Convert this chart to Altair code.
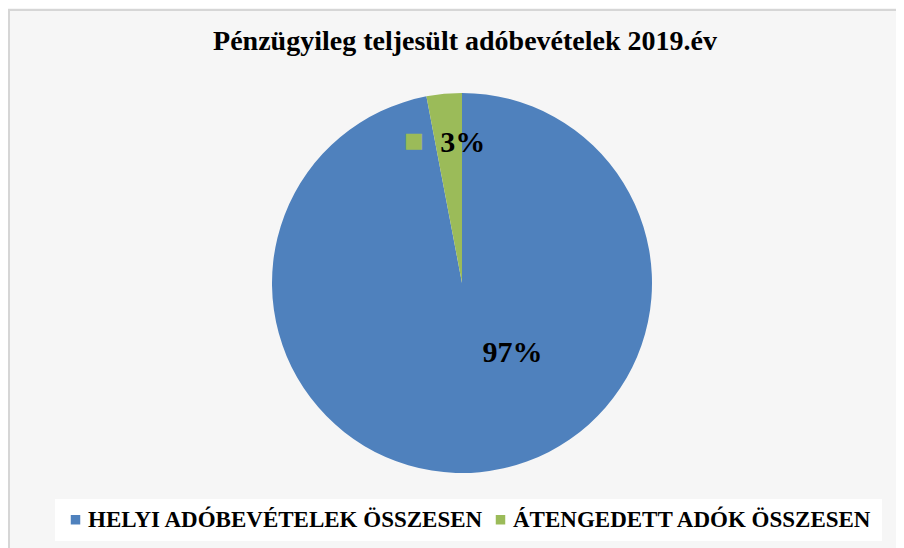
import altair as alt
import pandas as pd

categories = ["HELYI ADÓBEVÉTELEK ÖSSZESEN", "ÁTENGEDETT ADÓK ÖSSZESEN"]
shares = [97, 3]
labels = ["97%", "3%"]
colors = ["#4F81BD", "#9BBB59"]
order_idx = [0, 1]

df = pd.DataFrame({"cat": categories, "share": shares, "label": labels, "ord": order_idx})

FONT = "Liberation Serif"

frame = alt.Chart(pd.DataFrame({"a": [0]})).mark_rect(
    fill="#f6f6f6", stroke="#d6d6d6", strokeWidth=2
).encode(
    x=alt.value(-19), x2=alt.value(1000), y=alt.value(-8), y2=alt.value(600)
)

base = alt.Chart(df).encode(
    theta=alt.Theta("share:Q", stack=True),
    order=alt.Order("ord:Q"),
)

pie = base.mark_arc(outerRadius=190).encode(
    color=alt.Color(
        "cat:N",
        scale=alt.Scale(domain=categories, range=colors),
        legend=alt.Legend(
            title=None,
            orient="none",
            legendX=27,
            legendY=481,
            direction="horizontal",
            symbolType="square",
            symbolSize=90,
            symbolStrokeWidth=0,
            labelFont=FONT,
            labelFontSize=23,
            labelFontWeight="bold",
            labelColor="black",
            labelLimit=0,
            labelOffset=1,
            columnPadding=5,
            fillColor="white",
            padding=9,
        ),
    )
)

big_label = base.transform_calculate(
    t="datum.ord == 0 ? datum.label : ''"
).mark_text(
    radius=70, dx=44, font=FONT, fontSize=30, fontWeight="bold", color="black"
).encode(text="t:N", detail="cat:N")

small_label = base.transform_calculate(
    t="datum.ord == 1 ? datum.label : ''"
).mark_text(
    radius=140, dx=14, dy=-1, font=FONT, fontSize=30, fontWeight="bold", color="black"
).encode(text="t:N", detail="cat:N")

small_key = base.transform_calculate(
    t="datum.ord == 1 ? '■' : ''"
).mark_text(
    radius=140, dx=-35, dy=-3, font="DejaVu Sans", fontSize=21, color="#9BBB59"
).encode(text="t:N", detail="cat:N")

chart = alt.layer(frame, pie, big_label, small_label, small_key).properties(
    width=868,
    height=530,
    padding={"left": 20, "top": 10, "right": 0, "bottom": 0},
    autosize=alt.AutoSizeParams(type="none"),
    title=alt.TitleParams(
        "Pénzügyileg teljesült adóbevételek 2019.év",
        font=FONT,
        fontSize=28,
        fontWeight="bold",
        color="black",
        anchor="middle",
        frame="group",
        dy=51,
        dx=3,
    ),
).configure_view(strokeWidth=0).configure(background="#f6f6f6")

chart.save("out.html", embed_options={"renderer": "svg", "actions": False})
